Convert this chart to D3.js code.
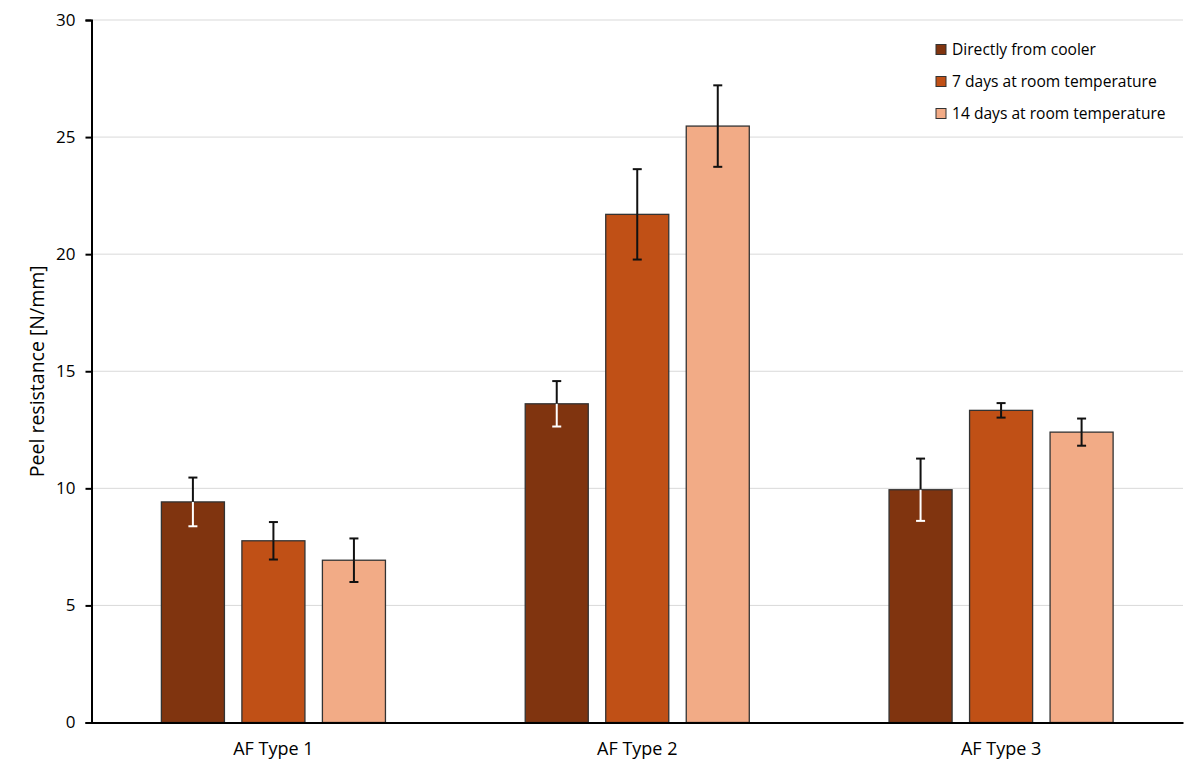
<!DOCTYPE html>
<html>
<head>
<meta charset="utf-8">
<script src="https://cdn.jsdelivr.net/npm/d3@7"></script>
<style>
  body { margin: 0; background: #fff; }
  text { font-family: "Open Sans", "Noto Sans", sans-serif; fill: #000; }
</style>
</head>
<body>
<div id="chart"></div>
<script>
// chart data
var categories = ["AF Type 1", "AF Type 2", "AF Type 3"];
var seriesNames = ["Directly from cooler", "7 days at room temperature", "14 days at room temperature"];
var cooler = [9.42, 13.61, 9.94];
var days7 = [7.76, 21.70, 13.33];
var days14 = [6.93, 25.47, 12.40];
var coolerErr = [1.04, 0.97, 1.33];
var days7Err = [0.80, 1.93, 0.31];
var days14Err = [0.93, 1.74, 0.58];
var yTicks = [0, 5, 10, 15, 20, 25, 30];

var colors = ["#80340F", "#C05016", "#F2AB86"];
var values = [cooler, days7, days14];
var errs = [coolerErr, days7Err, days14Err];

var width = 1200, height = 776;
var plotLeft = 91.5, plotRight = 1183, plotTop = 20, plotBottom = 722.5;

var svg = d3.select("#chart").append("svg")
    .attr("width", width)
    .attr("height", height);

var x0 = d3.scaleBand().domain(categories).range([plotLeft, plotRight]).padding(0);
var x1 = d3.scaleBand().domain(d3.range(seriesNames.length))
    .range([0, x0.bandwidth()]).paddingInner(0.217).paddingOuter(0.868);
var y = d3.scaleLinear().domain([0, 30]).range([plotBottom, plotTop]);

// gridlines
svg.append("g").selectAll("line")
    .data(yTicks.slice(1))
    .enter().append("line")
        .attr("x1", plotLeft).attr("x2", plotRight)
        .attr("y1", function(d) { return y(d); })
        .attr("y2", function(d) { return y(d); })
        .attr("stroke", "#d9d9d9")
        .attr("stroke-width", 1);

// flatten into bar records
var bars = [];
categories.forEach(function(c, i) {
  values.forEach(function(s, j) {
    bars.push({cat: c, s: j, v: s[i], e: errs[j][i]});
  });
});

var g = svg.append("g");
g.selectAll("rect")
    .data(bars)
    .enter().append("rect")
        .attr("x", function(d) { return x0(d.cat) + x1(d.s); })
        .attr("y", function(d) { return y(d.v); })
        .attr("width", x1.bandwidth())
        .attr("height", function(d) { return y(0) - y(d.v); })
        .attr("fill", function(d) { return colors[d.s]; })
        .attr("stroke", "#333")
        .attr("stroke-width", 1.3);

// error bars: upper half black, lower half white on the dark series
var eb = svg.append("g").selectAll("g")
    .data(bars)
    .enter().append("g")
        .attr("transform", function(d) { return "translate(" + (x0(d.cat) + x1(d.s) + x1.bandwidth() / 2) + ",0)"; });

eb.append("line")
    .attr("y1", function(d) { return y(d.v + d.e); })
    .attr("y2", function(d) { return y(d.v); })
    .attr("stroke", "#111").attr("stroke-width", 2);
eb.append("line")
    .attr("y1", function(d) { return y(d.v); })
    .attr("y2", function(d) { return y(d.v - d.e); })
    .attr("stroke", function(d) { return d.s === 0 ? "#fff" : "#111"; })
    .attr("stroke-width", 2);
eb.append("line")
    .attr("x1", -4.5).attr("x2", 4.5)
    .attr("y1", function(d) { return y(d.v + d.e); })
    .attr("y2", function(d) { return y(d.v + d.e); })
    .attr("stroke", "#111").attr("stroke-width", 2);
eb.append("line")
    .attr("x1", -4.5).attr("x2", 4.5)
    .attr("y1", function(d) { return y(d.v - d.e); })
    .attr("y2", function(d) { return y(d.v - d.e); })
    .attr("stroke", function(d) { return d.s === 0 ? "#fff" : "#111"; })
    .attr("stroke-width", 2);

// y axis
var yAxis = svg.append("g")
    .attr("transform", "translate(" + plotLeft + ",0)")
    .call(d3.axisLeft(y).tickValues(yTicks).tickSize(6).tickPadding(10));
yAxis.select(".domain").attr("stroke", "#000").attr("stroke-width", 2);
yAxis.selectAll(".tick line").attr("stroke", "#000").attr("stroke-width", 2);
yAxis.selectAll(".tick text").style("font-size", "17px").attr("fill", "#000");

// x axis
var xAxis = svg.append("g")
    .attr("transform", "translate(0," + plotBottom + ")")
    .call(d3.axisBottom(x0).tickSize(0).tickPadding(20));
xAxis.select(".domain").attr("stroke", "#000").attr("stroke-width", 2);
xAxis.selectAll(".tick text").style("font-size", "18px").attr("fill", "#000");

// y title
svg.append("text")
    .attr("transform", "translate(44," + ((plotTop + plotBottom) / 2) + ") rotate(-90)")
    .attr("text-anchor", "middle")
    .style("font-size", "19.5px")
    .text("Peel resistance [N/mm]");

// legend
var legend = svg.append("g").selectAll("g")
    .data(seriesNames)
    .enter().append("g")
        .attr("transform", function(d, i) { return "translate(936," + (50 + i * 32) + ")"; });
legend.append("rect")
    .attr("x", 0).attr("y", -5.5)
    .attr("width", 10).attr("height", 10)
    .attr("fill", function(d, i) { return colors[i]; })
    .attr("stroke", "#333").attr("stroke-width", 1);
legend.append("text")
    .attr("x", 16).attr("y", 0)
    .attr("dy", "0.35em")
    .style("font-size", "15.6px")
    .text(function(d) { return d; });
</script>
</body>
</html>
